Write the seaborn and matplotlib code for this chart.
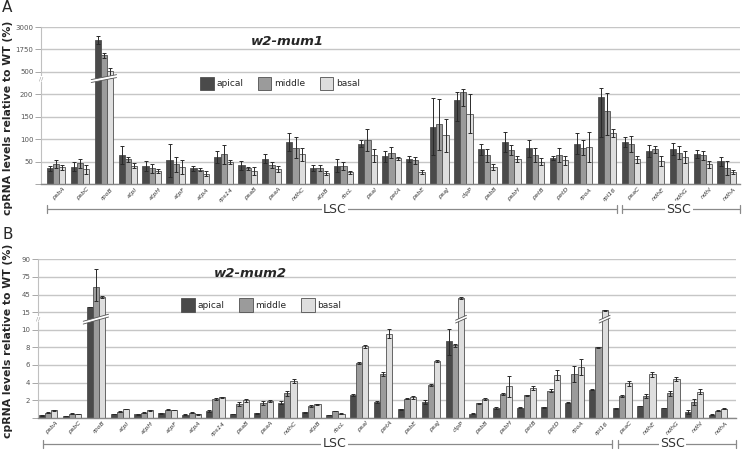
import numpy as np
import pandas as pd
import seaborn as sns
import matplotlib.pyplot as plt
from matplotlib.patches import Polygon
from matplotlib import transforms

genes = ['psbA', 'psbC', 'rpoB', 'atpI', 'atpH', 'atpF', 'atpA', 'rps14', 'psaB', 'psaA',
         'ndhC', 'atpB', 'rbcL', 'psaI', 'petA', 'psbE', 'psaJ', 'clpP', 'psbB', 'psbH',
         'petB', 'petD', 'rpoA', 'rpl16', 'psaC', 'ndhE', 'ndhG', 'ndhI', 'ndhA']
parts = ['apical', 'middle', 'basal']

# panel A: w2-mum1
a_apical = [35, 39, 2300, 64, 40, 53, 35, 60, 42, 56, 93, 36, 41, 90, 62, 55, 128, 187, 77, 93,
            80, 58, 90, 193, 93, 74, 78, 67, 51]
a_middle = [44, 46, 1420, 55, 35, 44, 32, 66, 35, 42, 81, 36, 41, 98, 70, 53, 133, 224, 64, 76,
            65, 64, 81, 163, 89, 77, 70, 64, 35]
a_basal = [37, 33, 570, 41, 29, 38, 23, 49, 30, 33, 66, 24, 26, 64, 57, 27, 109, 157, 38, 56,
           50, 53, 82, 113, 55, 52, 60, 44, 27]
a_err_apical = [5, 11, 220, 20, 12, 37, 6, 14, 10, 10, 20, 7, 14, 7, 12, 7, 63, 46, 13, 22,
                19, 4, 24, 88, 11, 14, 14, 8, 10]
a_err_middle = [9, 10, 150, 6, 10, 17, 4, 22, 4, 7, 23, 7, 9, 25, 12, 8, 57, 50, 15, 11,
                15, 16, 16, 53, 18, 8, 14, 10, 16]
a_err_basal = [5, 10, 150, 5, 5, 16, 6, 4, 9, 7, 14, 5, 3, 15, 3, 5, 37, 44, 6, 7,
               7, 10, 33, 9, 8, 11, 14, 8, 4]
a_ticks = [0, 50, 100, 150, 200, 500, 1750, 3000]

# panel B: w2-mum2
b_apical = [0.27, 0.19, 23, 0.42, 0.38, 0.5, 0.34, 0.76, 0.42, 0.5, 1.71, 0.61, 0.3, 2.59, 1.79,
            0.95, 1.79, 8.69, 0.46, 1.07, 1.14, 1.18, 1.71, 3.2, 1.07, 1.33, 1.1, 0.65, 0.34]
b_middle = [0.57, 0.46, 58, 0.69, 0.57, 0.88, 0.57, 2.13, 1.56, 1.68, 2.78, 1.3, 0.76, 6.21, 4.95,
            2.17, 3.7, 8.23, 1.64, 2.67, 2.55, 3.09, 4.95, 8.0, 2.48, 2.44, 2.78, 1.79, 0.8]
b_basal = [0.84, 0.42, 41, 0.99, 0.84, 0.88, 0.38, 2.32, 1.98, 1.9, 4.19, 1.52, 0.46, 8.11, 9.56,
           2.32, 6.48, 39, 2.13, 3.58, 3.39, 4.84, 5.79, 17.9, 3.89, 4.95, 4.38, 2.97, 1.03]
b_err_apical = [0.03, 0.03, 0, 0.04, 0.04, 0.04, 0.04, 0.12, 0.04, 0.04, 0.15, 0.08, 0.03, 0.08, 0.15,
                0.06, 0.2, 1.6, 0.03, 0.12, 0.05, 0.05, 0.06, 0.06, 0.06, 0.05, 0.05, 0.2, 0.04]
b_err_middle = [0.04, 0.03, 24, 0.05, 0.04, 0.06, 0.04, 0.15, 0.2, 0.2, 0.3, 0.1, 0.04, 0.1, 0.2,
                0.05, 0.08, 0.15, 0.05, 0.1, 0.06, 0.15, 0.9, 0.05, 0.1, 0.2, 0.3, 0.3, 0.04]
b_err_basal = [0.05, 0.03, 1.5, 0.05, 0.04, 0.05, 0.03, 0.05, 0.2, 0.1, 0.25, 0.08, 0.03, 0.2, 0.5,
               0.2, 0.1, 1.0, 0.1, 1.2, 0.2, 0.6, 0.9, 0.3, 0.25, 0.3, 0.25, 0.25, 0.05]
b_ticks = [0, 2, 4, 6, 8, 10, 15, 45, 75, 90]

colors = ['#4a4a4a', '#9b9b9b', '#dedede']

sns.set_style('white')
plt.rcParams['font.family'] = ['DejaVu Sans']

fig = plt.figure(figsize=(7.42, 4.5), dpi=100)
W, H = 742, 450
ax1 = fig.add_axes([41 / W, (H - 184) / H, 699 / W, 157 / H])
ax2 = fig.add_axes([38 / W, (H - 417.7) / H, 698 / W, 158.4 / H])


def broken_scale(kd, kg):
    kd = np.asarray(kd, float)
    kg = np.asarray(kg, float)
    fwd = lambda y: np.interp(y, kd, kg)
    inv = lambda g: np.interp(g, kg, kd)
    return fwd, inv


def slash(ax, x0, x1, g_mid, rise, thick, inv):
    gs = np.array([g_mid - rise / 2 - thick / 2, g_mid + rise / 2 - thick / 2,
                   g_mid + rise / 2 + thick / 2, g_mid - rise / 2 + thick / 2])
    pts = np.column_stack([[x0, x1, x1, x0], inv(gs)])
    ax.add_patch(Polygon(pts, closed=True, fc='white', ec='none', zorder=4))
    ax.plot([x0, x1], inv(gs[:2]), color='#555555', lw=0.6, zorder=5)
    ax.plot([x0, x1], inv(gs[[3, 2]]), color='#555555', lw=0.6, zorder=5)


def panel(ax, vals, errs, ticks, kd, kg, title, title_x, leg_xy, xlim):
    df = pd.DataFrame({'gene': genes * 3,
                       'part': np.repeat(parts, len(genes)),
                       'value': np.concatenate(vals)})
    sns.barplot(data=df, x='gene', y='value', hue='part', hue_order=parts, palette=colors,
                width=0.78, saturation=1, errorbar=None, edgecolor='#505050', linewidth=0.6,
                ax=ax, zorder=2)
    fwd, inv = broken_scale(kd, kg)
    ax.set_yscale('function', functions=(fwd, inv))
    for h, e in enumerate(errs):
        cont = ax.containers[h]
        xs = [p.get_x() + p.get_width() / 2 for p in cont]
        ys = [p.get_height() for p in cont]
        ax.errorbar(xs, ys, yerr=e, fmt='none', ecolor='#2a2a2a', elinewidth=0.7,
                    capsize=1.6, capthick=0.7, zorder=3)
    ax.set_ylim(ticks[0], ticks[-1])
    ax.set_xlim(*xlim)
    ax.set_yticks(ticks)
    ax.set_yticklabels([''] + [str(t) for t in ticks[1:]])
    ax.yaxis.grid(True, color='#c6c6c6', lw=1.0)
    ax.set_axisbelow(True)
    ax.tick_params(axis='y', length=4, width=0.6, color='#9a9a9a', labelsize=5,
                   labelcolor='#555555', pad=1.5, left=True)
    ax.tick_params(axis='x', length=0, pad=2)
    ax.set_xticks(range(len(genes)))
    ax.set_xticklabels(genes, rotation=45, ha='right', va='top', rotation_mode='anchor',
                       fontsize=4.5, style='italic', color='#333333')
    off = transforms.ScaledTranslation(5 / 72, 0, fig.dpi_scale_trans)
    for lab in ax.get_xticklabels():
        lab.set_transform(lab.get_transform() + off)
    ax.set_xlabel('')
    ax.set_ylabel('')
    for s in ['top', 'right']:
        ax.spines[s].set_visible(False)
    ax.spines['left'].set_color('#c0c0c0')
    ax.spines['bottom'].set_color('#888888')
    ax.spines['bottom'].set_linewidth(1.0)
    ax.text(title_x, 0.91, title, transform=ax.transAxes, ha='center', va='center',
            fontsize=9.5, weight='bold', style='italic')
    sns.move_legend(ax, 'center', bbox_to_anchor=leg_xy, ncol=3, frameon=False, title=None,
                    fontsize=6.5, handlelength=1.5, handleheight=2.0, columnspacing=1.6,
                    handletextpad=0.3)
    return fwd, inv


def bracket(ax, x0, x1, y, label, lx, lw=0.9):
    tr = ax.get_xaxis_transform()
    ax.plot([x0, x1], [y, y], transform=tr, clip_on=False, color='#8a8a8a', lw=lw)
    for x in (x0, x1):
        ax.plot([x, x], [y - 0.025, y + 0.025], transform=tr, clip_on=False, color='#8a8a8a', lw=lw)
    ax.text(lx, y, label, transform=tr, ha='center', va='center', fontsize=9, color='#333333',
            bbox=dict(fc='white', ec='none', pad=1.0))


# panel A
fa, ia = panel(ax1, [a_apical, a_middle, a_basal], [a_err_apical, a_err_middle, a_err_basal],
               a_ticks, [-1000, 0, 200, 500, 3000, 10000], [-20, 0, 4, 5, 7, 12.6],
               'w2-mum1', 0.352, (0.342, 0.64), (-0.625, 28.55))
c = ax1.containers
slash(ax1, c[0][2].get_x() - 0.14, c[2][2].get_x() + c[2][2].get_width() + 0.14, 4.7, 0.22, 0.13, ia)
ax1.text(0, ia(4.7), '//', transform=ax1.get_yaxis_transform(), ha='center', va='center',
         fontsize=4.5, color='#999999', bbox=dict(fc='white', ec='none', pad=0.3))
bracket(ax1, -0.375, 23.41, -0.16, 'LSC', 11.65)
bracket(ax1, 23.62, 28.55, -0.16, 'SSC', 26.0)

# panel B
fb, ib = panel(ax2, [b_apical, b_middle, b_basal], [b_err_apical, b_err_middle, b_err_basal],
               b_ticks, [-100, 0, 10, 15, 75, 90, 200], [-50, 0, 5, 6, 8, 9, 16.3],
               'w2-mum2', 0.304, (0.32, 0.71), (-0.42, 28.75))
c = ax2.containers
slash(ax2, c[0][2].get_x() - 0.14, c[2][2].get_x() + c[2][2].get_width() + 0.14, 5.6, 0.4, 0.16, ib)
for g in (17, 23):
    p = c[2][g]
    slash(ax2, p.get_x() - 0.1, p.get_x() + p.get_width() + 0.1, 5.6, 0.28, 0.16, ib)
ax2.text(0, ib(5.6), '//', transform=ax2.get_yaxis_transform(), ha='center', va='center',
         fontsize=4.5, color='#999999', bbox=dict(fc='white', ec='none', pad=0.3))
bracket(ax2, -0.21, 23.57, -0.166, 'LSC', 11.97)
bracket(ax2, 23.82, 28.75, -0.166, 'SSC', 26.1)

ylab = 'cpRNA levels relative to WT (%)'
fig.text(0.011, 0.738, ylab, rotation=90, ha='center', va='center', fontsize=7.8, weight='bold')
fig.text(0.011, 0.243, ylab, rotation=90, ha='center', va='center', fontsize=7.8, weight='bold')
fig.text(0.003, 0.999, 'A', fontsize=11, va='top', ha='left')
fig.text(0.003, 0.496, 'B', fontsize=11, va='top', ha='left')

fig.savefig('out.png', dpi=100, facecolor='white')
